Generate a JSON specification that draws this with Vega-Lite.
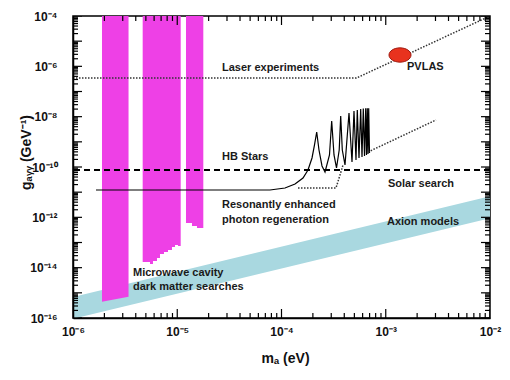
{
 "$schema": "https://vega.github.io/schema/vega-lite/v6.json",
 "width": 417,
 "height": 302,
 "autosize": {"type": "none"},
 "padding": {"left": 73, "top": 16, "right": 20, "bottom": 62},
 "background": "white",
 "config": {"font": "Liberation Sans", "view": {"stroke": "black", "strokeWidth": 1.5}},
 "datasets": {
  "band": [{"x": 1e-6, "lo": 9.3e-17, "hi": 6.85e-16}, {"x": 1e-2, "lo": 9.3e-13, "hi": 6.85e-12}],
  "bar1": [{"x": 1.897e-6, "lo": 4.46e-16, "hi": 1e-4}, {"x": 3.41e-6, "lo": 7.05e-16, "hi": 1e-4}],
  "bars": [
   {"grp": "b2", "x": 4.66e-6, "lo": 1.68e-14, "hi": 1e-4},
   {"grp": "b2", "x": 5.48e-6, "lo": 1.40e-14, "hi": 1e-4},
   {"grp": "b2", "x": 5.85e-6, "lo": 1.85e-14, "hi": 1e-4},
   {"grp": "b2", "x": 6.39e-6, "lo": 2.43e-14, "hi": 1e-4},
   {"grp": "b2", "x": 6.83e-6, "lo": 3.50e-14, "hi": 1e-4},
   {"grp": "b2", "x": 7.46e-6, "lo": 4.21e-14, "hi": 1e-4},
   {"grp": "b2", "x": 8.15e-6, "lo": 5.05e-14, "hi": 1e-4},
   {"grp": "b2", "x": 8.90e-6, "lo": 6.64e-14, "hi": 1e-4},
   {"grp": "b2", "x": 9.52e-6, "lo": 7.98e-14, "hi": 1e-4},
   {"grp": "b2", "x": 1.017e-5, "lo": 7.28e-14, "hi": 1e-4},
   {"grp": "b2", "x": 1.079e-5, "lo": 7.28e-14, "hi": 1e-4},
   {"grp": "b3", "x": 1.213e-5, "lo": 5.97e-13, "hi": 1e-4},
   {"grp": "b3", "x": 1.385e-5, "lo": 4.54e-13, "hi": 1e-4},
   {"grp": "b3", "x": 1.546e-5, "lo": 3.78e-13, "hi": 1e-4},
   {"grp": "b3", "x": 1.778e-5, "lo": 3.78e-13, "hi": 1e-4}
  ],
  "hb": [{"g": 7.62e-11}],
  "curve": [
   {"i": 1, "x": 1.662e-6, "y": 1.222e-11},
   {"i": 2, "x": 7.75e-5, "y": 1.222e-11},
   {"i": 3, "x": 1.080e-4, "y": 1.466e-11},
   {"i": 4, "x": 1.348e-4, "y": 2.114e-11},
   {"i": 5, "x": 1.608e-4, "y": 3.664e-11},
   {"i": 6, "x": 1.795e-4, "y": 7.62e-11},
   {"i": 7, "x": 1.962e-4, "y": 2.283e-10},
   {"i": 8, "x": 2.073e-4, "y": 7.50e-10},
   {"i": 9, "x": 2.176e-4, "y": 2.46e-9},
   {"i": 10, "x": 2.289e-4, "y": 4.74e-10},
   {"i": 11, "x": 2.446e-4, "y": 1.099e-10},
   {"i": 12, "x": 2.615e-4, "y": 6.34e-11},
   {"i": 13, "x": 2.886e-4, "y": 3.01e-10},
   {"i": 14, "x": 3.030e-4, "y": 6.73e-9},
   {"i": 15, "x": 3.189e-4, "y": 3.01e-10},
   {"i": 16, "x": 3.370e-4, "y": 9.14e-11},
   {"i": 17, "x": 3.577e-4, "y": 4.74e-10},
   {"i": 18, "x": 3.697e-4, "y": 1.064e-8},
   {"i": 19, "x": 3.830e-4, "y": 4.74e-10},
   {"i": 20, "x": 4.066e-4, "y": 1.203e-10},
   {"i": 21, "x": 4.441e-4, "y": 1.400e-8},
   {"i": 22, "x": 4.745e-4, "y": 1.582e-10},
   {"i": 23, "x": 4.959e-4, "y": 1.682e-8},
   {"i": 24, "x": 5.183e-4, "y": 1.901e-10},
   {"i": 25, "x": 5.334e-4, "y": 1.842e-8},
   {"i": 26, "x": 5.538e-4, "y": 2.283e-10},
   {"i": 27, "x": 5.750e-4, "y": 2.02e-8},
   {"i": 28, "x": 5.918e-4, "y": 2.50e-10},
   {"i": 29, "x": 6.090e-4, "y": 2.11e-8},
   {"i": 30, "x": 6.254e-4, "y": 2.74e-10},
   {"i": 31, "x": 6.422e-4, "y": 2.15e-8},
   {"i": 32, "x": 6.535e-4, "y": 3.01e-10},
   {"i": 33, "x": 6.653e-4, "y": 2.15e-8},
   {"i": 34, "x": 6.756e-4, "y": 3.29e-10},
   {"i": 35, "x": 6.861e-4, "y": 2.15e-8},
   {"i": 36, "x": 6.984e-4, "y": 3.61e-10}
  ],
  "dotted": [
   {"grp": "laser", "i": 1, "x": 1e-6, "y": 3.44e-7},
   {"grp": "laser", "i": 2, "x": 5.24e-4, "y": 3.44e-7},
   {"grp": "laser", "i": 3, "x": 1e-2, "y": 1e-4},
   {"grp": "env", "i": 1, "x": 1.440e-4, "y": 1.466e-11},
   {"grp": "env", "i": 2, "x": 3.333e-4, "y": 1.466e-11},
   {"grp": "env", "i": 3, "x": 3.64e-4, "y": 4.82e-11},
   {"grp": "env", "i": 4, "x": 3.890e-4, "y": 1.203e-10},
   {"grp": "tail", "i": 1, "x": 6.756e-4, "y": 3.95e-10},
   {"grp": "tail", "i": 2, "x": 3.034e-3, "y": 7.38e-9}
  ],
  "pvlas": [{"x": 1.370e-3, "y": 2.82e-6}],
  "labels": [
   {"label": "Laser experiments", "x": 2.687e-5, "y": 8.59e-7},
   {"label": "PVLAS", "x": 1.599e-3, "y": 9.41e-7},
   {"label": "HB Stars", "x": 2.687e-5, "y": 2.50e-10},
   {"label": "Solar search", "x": 1.051e-3, "y": 2.11e-11},
   {"label": "Resonantly enhanced", "x": 2.687e-5, "y": 3.10e-12},
   {"label": "photon regeneration", "x": 2.687e-5, "y": 7.85e-13},
   {"label": "Axion models", "x": 1.028e-3, "y": 6.54e-13},
   {"label": "Microwave cavity", "x": 3.763e-6, "y": 6.15e-15},
   {"label": "dark matter searches", "x": 3.763e-6, "y": 1.71e-15}
  ],
  "xticks": [
   {"x": 1e-6, "kind": "major"}, {"x": 2e-6, "kind": "minor"}, {"x": 3e-6, "kind": "minor"}, {"x": 4e-6, "kind": "minor"}, {"x": 5e-6, "kind": "minor"}, {"x": 6e-6, "kind": "minor"}, {"x": 7e-6, "kind": "minor"}, {"x": 8e-6, "kind": "minor"}, {"x": 9e-6, "kind": "minor"},
   {"x": 1e-5, "kind": "major"}, {"x": 2e-5, "kind": "minor"}, {"x": 3e-5, "kind": "minor"}, {"x": 4e-5, "kind": "minor"}, {"x": 5e-5, "kind": "minor"}, {"x": 6e-5, "kind": "minor"}, {"x": 7e-5, "kind": "minor"}, {"x": 8e-5, "kind": "minor"}, {"x": 9e-5, "kind": "minor"},
   {"x": 1e-4, "kind": "major"}, {"x": 2e-4, "kind": "minor"}, {"x": 3e-4, "kind": "minor"}, {"x": 4e-4, "kind": "minor"}, {"x": 5e-4, "kind": "minor"}, {"x": 6e-4, "kind": "minor"}, {"x": 7e-4, "kind": "minor"}, {"x": 8e-4, "kind": "minor"}, {"x": 9e-4, "kind": "minor"},
   {"x": 1e-3, "kind": "major"}, {"x": 2e-3, "kind": "minor"}, {"x": 3e-3, "kind": "minor"}, {"x": 4e-3, "kind": "minor"}, {"x": 5e-3, "kind": "minor"}, {"x": 6e-3, "kind": "minor"}, {"x": 7e-3, "kind": "minor"}, {"x": 8e-3, "kind": "minor"}, {"x": 9e-3, "kind": "minor"},
   {"x": 1e-2, "kind": "major"}
  ],
  "yticks": [
   {"y": 1e-16, "kind": "major"}, {"y": 2e-16, "kind": "minor"}, {"y": 3e-16, "kind": "minor"}, {"y": 4e-16, "kind": "minor"}, {"y": 5e-16, "kind": "minor"}, {"y": 6e-16, "kind": "minor"}, {"y": 7e-16, "kind": "minor"}, {"y": 8e-16, "kind": "minor"}, {"y": 9e-16, "kind": "minor"},
   {"y": 1e-15, "kind": "major"}, {"y": 2e-15, "kind": "minor"}, {"y": 3e-15, "kind": "minor"}, {"y": 4e-15, "kind": "minor"}, {"y": 5e-15, "kind": "minor"}, {"y": 6e-15, "kind": "minor"}, {"y": 7e-15, "kind": "minor"}, {"y": 8e-15, "kind": "minor"}, {"y": 9e-15, "kind": "minor"},
   {"y": 1e-14, "kind": "major"}, {"y": 2e-14, "kind": "minor"}, {"y": 3e-14, "kind": "minor"}, {"y": 4e-14, "kind": "minor"}, {"y": 5e-14, "kind": "minor"}, {"y": 6e-14, "kind": "minor"}, {"y": 7e-14, "kind": "minor"}, {"y": 8e-14, "kind": "minor"}, {"y": 9e-14, "kind": "minor"},
   {"y": 1e-13, "kind": "major"}, {"y": 2e-13, "kind": "minor"}, {"y": 3e-13, "kind": "minor"}, {"y": 4e-13, "kind": "minor"}, {"y": 5e-13, "kind": "minor"}, {"y": 6e-13, "kind": "minor"}, {"y": 7e-13, "kind": "minor"}, {"y": 8e-13, "kind": "minor"}, {"y": 9e-13, "kind": "minor"},
   {"y": 1e-12, "kind": "major"}, {"y": 2e-12, "kind": "minor"}, {"y": 3e-12, "kind": "minor"}, {"y": 4e-12, "kind": "minor"}, {"y": 5e-12, "kind": "minor"}, {"y": 6e-12, "kind": "minor"}, {"y": 7e-12, "kind": "minor"}, {"y": 8e-12, "kind": "minor"}, {"y": 9e-12, "kind": "minor"},
   {"y": 1e-11, "kind": "major"}, {"y": 2e-11, "kind": "minor"}, {"y": 3e-11, "kind": "minor"}, {"y": 4e-11, "kind": "minor"}, {"y": 5e-11, "kind": "minor"}, {"y": 6e-11, "kind": "minor"}, {"y": 7e-11, "kind": "minor"}, {"y": 8e-11, "kind": "minor"}, {"y": 9e-11, "kind": "minor"},
   {"y": 1e-10, "kind": "major"}, {"y": 2e-10, "kind": "minor"}, {"y": 3e-10, "kind": "minor"}, {"y": 4e-10, "kind": "minor"}, {"y": 5e-10, "kind": "minor"}, {"y": 6e-10, "kind": "minor"}, {"y": 7e-10, "kind": "minor"}, {"y": 8e-10, "kind": "minor"}, {"y": 9e-10, "kind": "minor"},
   {"y": 1e-9, "kind": "major"}, {"y": 2e-9, "kind": "minor"}, {"y": 3e-9, "kind": "minor"}, {"y": 4e-9, "kind": "minor"}, {"y": 5e-9, "kind": "minor"}, {"y": 6e-9, "kind": "minor"}, {"y": 7e-9, "kind": "minor"}, {"y": 8e-9, "kind": "minor"}, {"y": 9e-9, "kind": "minor"},
   {"y": 1e-8, "kind": "major"}, {"y": 2e-8, "kind": "minor"}, {"y": 3e-8, "kind": "minor"}, {"y": 4e-8, "kind": "minor"}, {"y": 5e-8, "kind": "minor"}, {"y": 6e-8, "kind": "minor"}, {"y": 7e-8, "kind": "minor"}, {"y": 8e-8, "kind": "minor"}, {"y": 9e-8, "kind": "minor"},
   {"y": 1e-7, "kind": "major"}, {"y": 2e-7, "kind": "minor"}, {"y": 3e-7, "kind": "minor"}, {"y": 4e-7, "kind": "minor"}, {"y": 5e-7, "kind": "minor"}, {"y": 6e-7, "kind": "minor"}, {"y": 7e-7, "kind": "minor"}, {"y": 8e-7, "kind": "minor"}, {"y": 9e-7, "kind": "minor"},
   {"y": 1e-6, "kind": "major"}, {"y": 2e-6, "kind": "minor"}, {"y": 3e-6, "kind": "minor"}, {"y": 4e-6, "kind": "minor"}, {"y": 5e-6, "kind": "minor"}, {"y": 6e-6, "kind": "minor"}, {"y": 7e-6, "kind": "minor"}, {"y": 8e-6, "kind": "minor"}, {"y": 9e-6, "kind": "minor"},
   {"y": 1e-5, "kind": "major"}, {"y": 2e-5, "kind": "minor"}, {"y": 3e-5, "kind": "minor"}, {"y": 4e-5, "kind": "minor"}, {"y": 5e-5, "kind": "minor"}, {"y": 6e-5, "kind": "minor"}, {"y": 7e-5, "kind": "minor"}, {"y": 8e-5, "kind": "minor"}, {"y": 9e-5, "kind": "minor"},
   {"y": 1e-4, "kind": "major"}
  ]
 },
 "layer": [
  {
   "data": {"name": "band"},
   "mark": {"type": "area", "color": "#a9d8e0", "clip": true},
   "encoding": {
    "x": {"field": "x", "type": "quantitative", "scale": {"type": "log", "domain": [1e-6, 1e-2], "nice": false},
     "axis": {"orient": "bottom", "zindex": 1, "grid": false, "domain": true, "domainColor": "black", "domainWidth": 1.5, "ticks": false,
      "values": [1e-6, 1e-5, 1e-4, 1e-3, 1e-2],
      "labelExpr": "datum.value==1e-6?'10⁻⁶':datum.value==1e-5?'10⁻⁵':datum.value==1e-4?'10⁻⁴':datum.value==1e-3?'10⁻³':datum.value==1e-2?'10⁻²':''",
      "labelFontSize": 12, "labelFontWeight": "bold", "labelColor": "#111",
      "labelOverlap": false, "labelFlush": false, "labelPadding": 8,
      "title": "mₐ (eV)", "titleFontSize": 14, "titleFontWeight": "bold", "titleColor": "#111", "titleX": 212, "titleY": 40, "titleBaseline": "middle"}},
    "y": {"field": "hi", "type": "quantitative", "scale": {"type": "log", "domain": [1e-16, 1e-4], "nice": false},
     "axis": {"orient": "left", "zindex": 1, "grid": false, "domain": true, "domainColor": "black", "domainWidth": 1.5, "ticks": false,
      "values": [1e-16, 1e-14, 1e-12, 1e-10, 1e-8, 1e-6, 1e-4],
      "labelExpr": "datum.value==1e-4?'10⁻⁴':datum.value==1e-6?'10⁻⁶':datum.value==1e-8?'10⁻⁸':datum.value==1e-10?'10⁻¹⁰':datum.value==1e-12?'10⁻¹²':datum.value==1e-14?'10⁻¹⁴':datum.value==1e-16?'10⁻¹⁶':''",
      "labelFontSize": 12, "labelFontWeight": "bold", "labelColor": "#111",
      "labelOverlap": false, "labelFlush": false, "labelPadding": 16,
      "title": "gₐᵧᵧ (GeV⁻¹)", "titleFontSize": 14, "titleFontWeight": "bold", "titleColor": "#111", "titleAngle": -90, "titleX": -47, "titleY": 136, "titleAlign": "center", "titleBaseline": "middle"}},
    "y2": {"field": "lo"}
   }
  },
  {
   "data": {"name": "bar1"},
   "mark": {"type": "area", "color": "#ee40e6", "clip": true},
   "encoding": {
    "x": {"field": "x", "type": "quantitative", "scale": {"type": "log", "domain": [1e-6, 1e-2], "nice": false}, "axis": null},
    "y": {"field": "lo", "type": "quantitative", "scale": {"type": "log", "domain": [1e-16, 1e-4], "nice": false}, "axis": null},
    "y2": {"field": "hi"}
   }
  },
  {
   "data": {"name": "bars"},
   "mark": {"type": "area", "color": "#ee40e6", "interpolate": "step-after", "clip": true},
   "encoding": {
    "x": {"field": "x", "type": "quantitative", "scale": {"type": "log", "domain": [1e-6, 1e-2], "nice": false}, "axis": null},
    "y": {"field": "lo", "type": "quantitative", "scale": {"type": "log", "domain": [1e-16, 1e-4], "nice": false}, "axis": null},
    "y2": {"field": "hi"},
    "detail": {"field": "grp"}
   }
  },
  {
   "data": {"name": "hb"},
   "mark": {"type": "rule", "color": "black", "strokeWidth": 2, "strokeDash": [6, 4]},
   "encoding": {
    "y": {"field": "g", "type": "quantitative", "scale": {"type": "log", "domain": [1e-16, 1e-4], "nice": false}, "axis": null}
   }
  },
  {
   "data": {"name": "curve"},
   "mark": {"type": "line", "color": "black", "strokeWidth": 1.2, "clip": true},
   "encoding": {
    "x": {"field": "x", "type": "quantitative", "scale": {"type": "log", "domain": [1e-6, 1e-2], "nice": false}, "axis": null},
    "y": {"field": "y", "type": "quantitative", "scale": {"type": "log", "domain": [1e-16, 1e-4], "nice": false}, "axis": null},
    "order": {"field": "i", "type": "quantitative"}
   }
  },
  {
   "data": {"name": "dotted"},
   "mark": {"type": "line", "color": "#333", "strokeWidth": 1.5, "strokeDash": [1.5, 1.5], "clip": true},
   "encoding": {
    "x": {"field": "x", "type": "quantitative", "scale": {"type": "log", "domain": [1e-6, 1e-2], "nice": false}, "axis": null},
    "y": {"field": "y", "type": "quantitative", "scale": {"type": "log", "domain": [1e-16, 1e-4], "nice": false}, "axis": null},
    "detail": {"field": "grp"},
    "order": {"field": "i", "type": "quantitative"}
   }
  },
  {
   "data": {"name": "pvlas"},
   "mark": {"type": "point", "shape": "M-1,0A1,0.65,0,1,1,1,0A1,0.65,0,1,1,-1,0Z", "size": 484, "filled": true, "fill": "#e8321e", "stroke": "#a01a10", "strokeWidth": 1, "opacity": 1},
   "encoding": {
    "x": {"field": "x", "type": "quantitative", "scale": {"type": "log", "domain": [1e-6, 1e-2], "nice": false}, "axis": null},
    "y": {"field": "y", "type": "quantitative", "scale": {"type": "log", "domain": [1e-16, 1e-4], "nice": false}, "axis": null}
   }
  },
  {
   "data": {"name": "labels"},
   "mark": {"type": "text", "align": "left", "baseline": "middle", "fontSize": 11, "fontWeight": "bold", "color": "#1a1a1a"},
   "encoding": {
    "x": {"field": "x", "type": "quantitative", "scale": {"type": "log", "domain": [1e-6, 1e-2], "nice": false}, "axis": null},
    "y": {"field": "y", "type": "quantitative", "scale": {"type": "log", "domain": [1e-16, 1e-4], "nice": false}, "axis": null},
    "text": {"field": "label"}
   }
  },
  {
   "data": {"name": "xticks"},
   "mark": {"type": "tick", "orient": "vertical", "color": "black", "thickness": 1.2, "opacity": 1, "clip": true},
   "encoding": {
    "x": {"field": "x", "type": "quantitative", "scale": {"type": "log", "domain": [1e-6, 1e-2], "nice": false}, "axis": null},
    "y": {"datum": 1e-16, "type": "quantitative", "scale": {"type": "log", "domain": [1e-16, 1e-4], "nice": false}, "axis": null},
    "size": {"field": "kind", "type": "nominal", "scale": {"domain": ["major", "minor"], "range": [18, 10]}, "legend": null}
   }
  },
  {
   "data": {"name": "xticks"},
   "mark": {"type": "tick", "orient": "vertical", "color": "black", "thickness": 1.2, "opacity": 1, "clip": true},
   "encoding": {
    "x": {"field": "x", "type": "quantitative", "scale": {"type": "log", "domain": [1e-6, 1e-2], "nice": false}, "axis": null},
    "y": {"datum": 1e-4, "type": "quantitative", "scale": {"type": "log", "domain": [1e-16, 1e-4], "nice": false}, "axis": null},
    "size": {"field": "kind", "type": "nominal", "scale": {"domain": ["major", "minor"], "range": [18, 10]}, "legend": null}
   }
  },
  {
   "data": {"name": "yticks"},
   "mark": {"type": "tick", "orient": "horizontal", "color": "black", "thickness": 1.2, "opacity": 1, "clip": true},
   "encoding": {
    "y": {"field": "y", "type": "quantitative", "scale": {"type": "log", "domain": [1e-16, 1e-4], "nice": false}, "axis": null},
    "x": {"datum": 1e-6, "type": "quantitative", "scale": {"type": "log", "domain": [1e-6, 1e-2], "nice": false}, "axis": null},
    "size": {"field": "kind", "type": "nominal", "scale": {"domain": ["major", "minor"], "range": [18, 10]}, "legend": null}
   }
  },
  {
   "data": {"name": "yticks"},
   "mark": {"type": "tick", "orient": "horizontal", "color": "black", "thickness": 1.2, "opacity": 1, "clip": true},
   "encoding": {
    "y": {"field": "y", "type": "quantitative", "scale": {"type": "log", "domain": [1e-16, 1e-4], "nice": false}, "axis": null},
    "x": {"datum": 1e-2, "type": "quantitative", "scale": {"type": "log", "domain": [1e-6, 1e-2], "nice": false}, "axis": null},
    "size": {"field": "kind", "type": "nominal", "scale": {"domain": ["major", "minor"], "range": [18, 10]}, "legend": null}
   }
  }
 ],
 "resolve": {"axis": {"x": "independent", "y": "independent"}}
}
